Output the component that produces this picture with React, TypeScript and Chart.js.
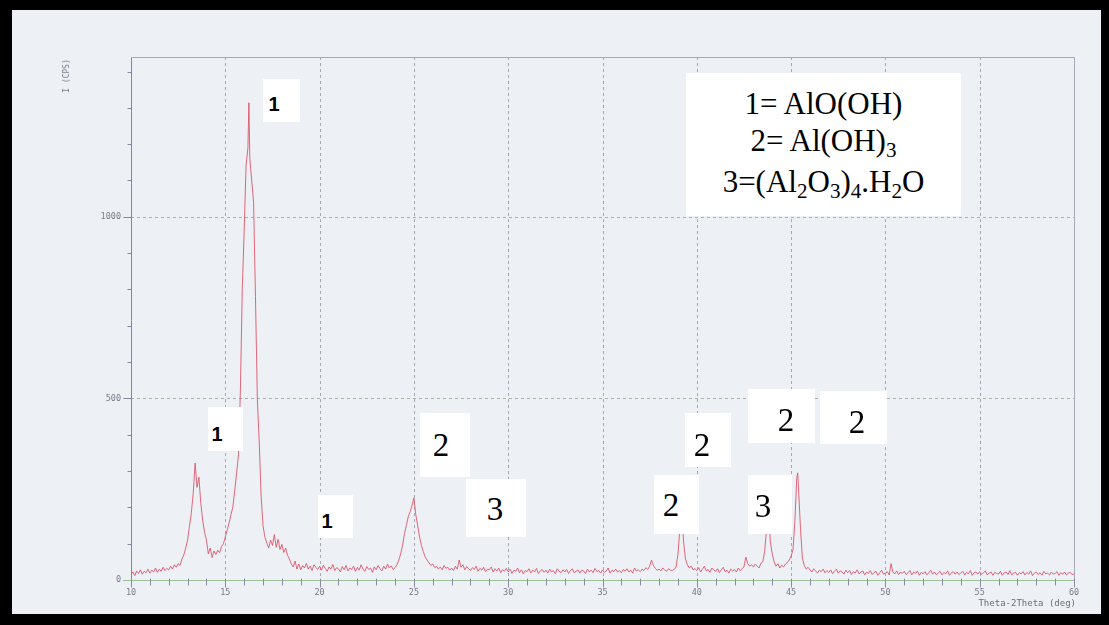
import React, { useEffect, useRef } from 'react';
import { Chart, registerables } from 'chart.js';

Chart.register(...registerables);

// 2-theta angles (deg)
const twoTheta: number[] = [
  10.0, 10.1, 10.2, 10.3, 10.4, 10.5, 10.6, 10.7, 10.8, 10.9,
  11.0, 11.1, 11.2, 11.3, 11.4, 11.5, 11.6, 11.7, 11.8, 11.9,
  12.0, 12.1, 12.2, 12.3, 12.4, 12.5, 12.6, 12.7, 12.8, 12.9,
  13.0, 13.1, 13.2, 13.3, 13.4, 13.5, 13.6, 13.7, 13.8, 13.9,
  14.0, 14.1, 14.2, 14.3, 14.4, 14.5, 14.6, 14.7, 14.8, 14.9,
  15.0, 15.1, 15.2, 15.3, 15.4, 15.5, 15.6, 15.7, 15.8, 15.9,
  16.0, 16.1, 16.2, 16.25, 16.3, 16.4, 16.5, 16.6, 16.7, 16.8, 16.9,
  17.0, 17.1, 17.2, 17.3, 17.4, 17.5, 17.6, 17.7, 17.8, 17.9,
  18.0, 18.1, 18.2, 18.3, 18.4, 18.5, 18.6, 18.7, 18.8, 18.9,
  19.0, 19.1, 19.2, 19.3, 19.4, 19.5, 19.6, 19.7, 19.8, 19.9,
  20.0, 20.1, 20.2, 20.3, 20.4, 20.5, 20.6, 20.7, 20.8, 20.9,
  21.0, 21.1, 21.2, 21.3, 21.4, 21.5, 21.6, 21.7, 21.8, 21.9,
  22.0, 22.1, 22.2, 22.3, 22.4, 22.5, 22.6, 22.7, 22.8, 22.9,
  23.0, 23.1, 23.2, 23.3, 23.4, 23.5, 23.6, 23.7, 23.8, 23.9,
  24.0, 24.1, 24.2, 24.3, 24.4, 24.5, 24.6, 24.7, 24.8, 24.9,
  25.0, 25.1, 25.2, 25.3, 25.4, 25.5, 25.6, 25.7, 25.8, 25.9,
  26.0, 26.1, 26.2, 26.3, 26.4, 26.5, 26.6, 26.7, 26.8, 26.9,
  27.0, 27.1, 27.2, 27.3, 27.4, 27.5, 27.6, 27.7, 27.8, 27.9,
  28.0, 28.1, 28.2, 28.3, 28.4, 28.5, 28.6, 28.7, 28.8, 28.9,
  29.0, 29.1, 29.2, 29.3, 29.4, 29.5, 29.6, 29.7, 29.8, 29.9,
  30.0, 30.1, 30.2, 30.3, 30.4, 30.5, 30.6, 30.7, 30.8, 30.9,
  31.0, 31.1, 31.2, 31.3, 31.4, 31.5, 31.6, 31.7, 31.8, 31.9,
  32.0, 32.1, 32.2, 32.3, 32.4, 32.5, 32.6, 32.7, 32.8, 32.9,
  33.0, 33.1, 33.2, 33.3, 33.4, 33.5, 33.6, 33.7, 33.8, 33.9,
  34.0, 34.1, 34.2, 34.3, 34.4, 34.5, 34.6, 34.7, 34.8, 34.9,
  35.0, 35.1, 35.2, 35.3, 35.4, 35.5, 35.6, 35.7, 35.8, 35.9,
  36.0, 36.1, 36.2, 36.3, 36.4, 36.5, 36.6, 36.7, 36.8, 36.9,
  37.0, 37.1, 37.2, 37.3, 37.4, 37.5, 37.6, 37.7, 37.8, 37.9,
  38.0, 38.1, 38.2, 38.3, 38.4, 38.5, 38.6, 38.7, 38.8, 38.9,
  39.0, 39.1, 39.2, 39.3, 39.4, 39.5, 39.6, 39.7, 39.8, 39.9,
  40.0, 40.1, 40.2, 40.3, 40.4, 40.5, 40.6, 40.7, 40.8, 40.9,
  41.0, 41.1, 41.2, 41.3, 41.4, 41.5, 41.6, 41.7, 41.8, 41.9,
  42.0, 42.1, 42.2, 42.3, 42.4, 42.5, 42.6, 42.7, 42.8, 42.9,
  43.0, 43.1, 43.2, 43.3, 43.4, 43.5, 43.6, 43.7, 43.8, 43.9,
  44.0, 44.1, 44.2, 44.3, 44.4, 44.5, 44.6, 44.7, 44.8, 44.9,
  45.0, 45.1, 45.2, 45.3, 45.35, 45.4, 45.5, 45.6, 45.7, 45.8, 45.9,
  46.0, 46.1, 46.2, 46.3, 46.4, 46.5, 46.6, 46.7, 46.8, 46.9,
  47.0, 47.1, 47.2, 47.3, 47.4, 47.5, 47.6, 47.7, 47.8, 47.9,
  48.0, 48.1, 48.2, 48.3, 48.4, 48.5, 48.6, 48.7, 48.8, 48.9,
  49.0, 49.1, 49.2, 49.3, 49.4, 49.5, 49.6, 49.7, 49.8, 49.9,
  50.0, 50.1, 50.2, 50.3, 50.4, 50.5, 50.6, 50.7, 50.8, 50.9,
  51.0, 51.1, 51.2, 51.3, 51.4, 51.5, 51.6, 51.7, 51.8, 51.9,
  52.0, 52.1, 52.2, 52.3, 52.4, 52.5, 52.6, 52.7, 52.8, 52.9,
  53.0, 53.1, 53.2, 53.3, 53.4, 53.5, 53.6, 53.7, 53.8, 53.9,
  54.0, 54.1, 54.2, 54.3, 54.4, 54.5, 54.6, 54.7, 54.8, 54.9,
  55.0, 55.1, 55.2, 55.3, 55.4, 55.5, 55.6, 55.7, 55.8, 55.9,
  56.0, 56.1, 56.2, 56.3, 56.4, 56.5, 56.6, 56.7, 56.8, 56.9,
  57.0, 57.1, 57.2, 57.3, 57.4, 57.5, 57.6, 57.7, 57.8, 57.9,
  58.0, 58.1, 58.2, 58.3, 58.4, 58.5, 58.6, 58.7, 58.8, 58.9,
  59.0, 59.1, 59.2, 59.3, 59.4, 59.5, 59.6, 59.7, 59.8, 59.9,
  60.0,
];

// Intensity I (CPS)
const counts: number[] = [
  15, 22, 12, 25, 18, 28, 16, 24, 20, 30,
  19, 27, 22, 33, 21, 30, 24, 35, 26, 32,
  28, 38, 30, 42, 35, 45, 40, 58, 69, 88,
  110, 148, 185, 240, 322, 255, 283, 212, 165, 132,
  110, 72, 88, 62, 80, 70, 82, 75, 92, 100,
  118, 138, 157, 180, 201, 245, 295, 345, 520, 800,
  960, 1140, 1190, 1314, 1160, 1100, 1040, 780, 496, 380, 230,
  150, 118, 102, 88, 110, 95, 125, 90, 112, 84,
  98, 76, 88, 68, 58, 44, 36, 52, 30, 44,
  28, 40, 33, 46, 30, 38, 26, 42, 35, 29,
  38, 27, 41, 32, 24, 36, 30, 43, 26, 34,
  31, 22, 37, 28, 40, 25, 33, 29, 38, 24,
  35, 27, 42, 30, 24, 37, 29, 33, 21, 36,
  28, 40, 31, 25, 38, 30, 44, 33, 39, 29,
  34, 42, 55, 72, 95, 128, 150, 174, 188, 205,
  226, 180, 150, 118, 95, 78, 63, 55, 47, 40,
  44, 34, 38, 30, 36, 28, 40, 32, 35, 27,
  33, 26, 38, 30, 55, 35, 42, 28, 37, 31,
  26, 34, 29, 38, 24, 32, 27, 35, 23, 30,
  28, 36, 22, 31, 25, 33, 20, 29, 24, 32,
  22, 30, 18, 27, 24, 33, 20, 28, 17, 26,
  23, 31, 19, 27, 22, 32, 18, 25, 29, 21,
  27, 19, 30, 22, 26, 17, 31, 24, 20, 28,
  22, 29, 18, 26, 31, 20, 24, 28, 19, 27,
  25, 18, 30, 22, 27, 20, 32, 23, 26, 19,
  28, 21, 25, 33, 19, 27, 23, 30, 22, 26,
  20, 29, 24, 31, 22, 27, 19, 33, 25, 28,
  23, 30, 26, 34, 29, 38, 55, 40, 32, 27,
  30, 25, 33, 28, 24, 31, 27, 26, 29, 36,
  70, 140, 185, 105, 58, 42, 33, 38, 28, 31,
  26, 34, 22, 30, 38, 25, 29, 21, 33, 27,
  24, 31, 20, 28, 35, 23, 27, 19, 30, 25,
  29, 22, 33, 26, 31, 36, 63, 45, 38, 42,
  36, 44, 38, 33, 46, 50, 80, 140, 190, 105,
  72, 50, 38, 45, 33, 41, 36, 44, 48, 55,
  66, 83, 160, 280, 295, 245, 140, 60, 40, 30, 35,
  28, 22, 31, 25, 19, 27, 23, 30, 20, 26,
  21, 28, 17, 24, 30, 19, 25, 22, 16, 27,
  20, 26, 15, 23, 19, 28, 17, 22, 25, 14,
  22, 18, 26, 15, 21, 24, 13, 20, 27, 16,
  19, 23, 14, 45, 21, 17, 25, 15, 22, 18,
  24, 15, 20, 26, 14, 22, 18, 25, 13, 21,
  17, 23, 14, 20, 27, 16, 22, 15, 19, 24,
  14, 21, 17, 25, 13, 20, 23, 16, 22, 15,
  19, 24, 14, 21, 17, 26, 13, 20, 22, 16,
  23, 15, 20, 25, 14, 19, 22, 13, 21, 18,
  16, 24, 13, 20, 22, 15, 26, 14, 19, 21,
  13, 20, 17, 23, 14, 21, 16, 25, 12, 19,
  22, 15, 20, 13, 24, 17, 19, 14, 22, 16,
  18, 23, 13, 20, 16, 22, 14, 19, 21, 15,
  17,
];

const xTickLabels: string[] = ['10', '15', '20', '25', '30', '35', '40', '45', '50', '55', '60'];
const yTickLabels: string[] = ['0', '500', '1000'];
const xAxisTitle = 'Theta-2Theta (deg)';
const yAxisTitle = 'I (CPS)';

// Peak assignment labels (text only)
const peakLabels: string[] = ['1', '1', '1', '2', '3', '2', '2', '3', '2', '2'];

// Layout of the peak label boxes: [boxLeft, boxTop, boxW, boxH, textCx, textCy, kind]
const peakLabelLayout: [number, number, number, number, number, number, 'bold' | 'serif'][] = [
  [263, 79, 37, 43, 274, 104, 'bold'],
  [208, 407, 35, 44, 217, 434, 'bold'],
  [318, 495, 35, 43, 327, 521, 'bold'],
  [420, 413, 50, 64, 441, 445, 'serif'],
  [466, 479, 60, 58, 495, 509, 'serif'],
  [654, 475, 45, 59, 671, 505, 'serif'],
  [685, 413, 46, 54, 702, 445, 'serif'],
  [748, 475, 44, 59, 763, 506, 'serif'],
  [748, 389, 67, 54, 786, 420, 'serif'],
  [820, 391, 67, 53, 857, 422, 'serif'],
];

const sub = (t: string) => (
  <span style={{ fontSize: '0.68em', position: 'relative', top: 6 }}>{t}</span>
);

export default function App() {
  const ref = useRef<HTMLCanvasElement | null>(null);

  useEffect(() => {
    const canvas = ref.current;
    if (!canvas) return;

    const axisPlugin = {
      id: 'xrdAxes',
      beforeDatasetsDraw(chart: any) {
        const { ctx, chartArea: a, scales } = chart;
        const xs = scales.x;
        const ys = scales.y;
        ctx.save();
        ctx.lineWidth = 1;
        ctx.strokeStyle = '#a4a8b4';
        ctx.setLineDash([3, 3]);
        xs.ticks.forEach((t: any) => {
          if (t.value <= xs.min || t.value >= xs.max) return;
          const px = Math.round(xs.getPixelForValue(t.value)) + 0.5;
          ctx.beginPath();
          ctx.moveTo(px, a.top);
          ctx.lineTo(px, a.bottom);
          ctx.stroke();
        });
        ctx.strokeStyle = '#a8b0a8';
        ys.ticks.forEach((t: any) => {
          if (t.value <= 0) return;
          const py = Math.round(ys.getPixelForValue(t.value)) + 0.5;
          ctx.beginPath();
          ctx.moveTo(a.left, py);
          ctx.lineTo(a.right, py);
          ctx.stroke();
        });
        ctx.restore();
      },
      afterDatasetsDraw(chart: any) {
        const { ctx, chartArea: a, scales } = chart;
        const xs = scales.x;
        const ys = scales.y;
        ctx.save();
        ctx.lineWidth = 1;
        ctx.setLineDash([]);
        const L = Math.round(a.left) + 0.5;
        const R = Math.round(a.right) + 0.5;
        const T = Math.round(a.top) + 0.5;
        const B = Math.round(a.bottom) + 0.5;
        ctx.strokeStyle = '#aaa8ba';
        ctx.beginPath();
        ctx.moveTo(L, T); ctx.lineTo(R, T); ctx.lineTo(R, B);
        ctx.stroke();
        ctx.strokeStyle = '#8a829e';
        ctx.beginPath();
        ctx.moveTo(L, T); ctx.lineTo(L, B + 3);
        ctx.stroke();
        for (let v = 0; v <= ys.max; v += 100) {
          const py = Math.round(ys.getPixelForValue(v)) + 0.5;
          const len = v % 500 === 0 ? 8 : 4;
          ctx.beginPath();
          ctx.moveTo(L - len, py); ctx.lineTo(L, py);
          ctx.stroke();
        }
        ctx.strokeStyle = '#9cbf98';
        ctx.beginPath();
        ctx.moveTo(L - 8, B); ctx.lineTo(R, B);
        ctx.stroke();
        ctx.strokeStyle = '#8e8ca4';
        for (let v = xs.min; v <= xs.max; v += 1) {
          const px = Math.round(xs.getPixelForValue(v)) + 0.5;
          const len = v % 5 === 0 ? 7 : 5;
          ctx.beginPath();
          ctx.moveTo(px, B - 2); ctx.lineTo(px, B + len);
          ctx.stroke();
        }
        ctx.restore();
      },
    };

    const chart = new Chart(canvas, {
      type: 'line',
      data: {
        datasets: [
          {
            data: twoTheta.map((x, i) => ({ x, y: counts[i] })),
            borderColor: 'rgba(220, 78, 100, 0.85)',
            borderWidth: 1,
            pointRadius: 0,
            tension: 0,
            fill: false,
          },
        ],
      },
      options: {
        animation: false,
        responsive: false,
        devicePixelRatio: 1,
        layout: { padding: { left: 0, top: 57, right: 35, bottom: 0 } },
        plugins: { legend: { display: false }, tooltip: { enabled: false } },
        scales: {
          x: {
            type: 'linear',
            min: 10,
            max: 60,
            afterFit: (s: any) => { s.height = 45; },
            afterBuildTicks: (s: any) => { s.ticks = xTickLabels.map((l) => ({ value: Number(l) })); },
            grid: { display: false, drawTicks: false },
            border: { display: false },
            ticks: {
              autoSkip: false,
              maxRotation: 0,
              padding: 8,
              color: '#7a7a86',
              font: { family: 'DejaVu Sans Mono', size: 8.5 },
              callback: (v: any) => String(v),
            },
          },
          y: {
            type: 'linear',
            min: 0,
            max: 1440,
            afterFit: (s: any) => { s.width = 131; },
            afterBuildTicks: (s: any) => { s.ticks = yTickLabels.map((l) => ({ value: Number(l) })); },
            grid: { display: false, drawTicks: false },
            border: { display: false },
            ticks: {
              autoSkip: false,
              padding: 10,
              color: '#7a7a86',
              font: { family: 'DejaVu Sans Mono', size: 8.5 },
              callback: (v: any) => String(v),
            },
          },
        },
      },
      plugins: [axisPlugin],
    } as any);

    return () => chart.destroy();
  }, []);

  return (
    <div
      style={{
        position: 'fixed',
        left: 0,
        top: 0,
        width: 1109,
        height: 625,
        background: '#000',
        overflow: 'hidden',
      }}
    >
      <div
        style={{
          position: 'absolute',
          left: 12,
          top: 10,
          width: 1109 - 12 - 8,
          height: 625 - 10 - 11,
          background: '#edf0f5',
        }}
      />
      <canvas
        ref={ref}
        width={1109}
        height={625}
        style={{ position: 'absolute', left: 0, top: 0, width: 1109, height: 625 }}
      />
      <div
        style={{
          position: 'absolute',
          left: 67,
          top: 76,
          transform: 'translate(-50%, -50%) rotate(-90deg)',
          fontFamily: 'DejaVu Sans Mono',
          fontSize: 8,
          color: '#7a7a86',
          whiteSpace: 'nowrap',
          lineHeight: '8px',
        }}
      >
        {yAxisTitle}
      </div>
      <div
        style={{
          position: 'absolute',
          right: 1109 - 1076,
          top: 598,
          fontFamily: 'DejaVu Sans Mono',
          fontSize: 9,
          color: '#6c6c78',
          whiteSpace: 'nowrap',
          lineHeight: '10px',
        }}
      >
        {xAxisTitle}
      </div>
      {peakLabels.map((txt, i) => {
        const [bl, bt, bw, bh, cx, cy, kind] = peakLabelLayout[i];
        const bold = kind === 'bold';
        const fs = bold ? 20 : 33;
        return (
          <React.Fragment key={i}>
            <div
              style={{ position: 'absolute', left: bl, top: bt, width: bw, height: bh, background: '#fff' }}
            />
            <div
              style={{
                position: 'absolute',
                left: cx,
                top: cy,
                transform: 'translate(-50%, -50%)',
                fontFamily: bold ? 'Liberation Sans, Arial, sans-serif' : 'Liberation Serif, Times New Roman, serif',
                fontWeight: bold ? 700 : 400,
                fontSize: fs,
                lineHeight: `${fs}px`,
                color: '#000',
                whiteSpace: 'nowrap',
              }}
            >
              {txt}
            </div>
          </React.Fragment>
        );
      })}
      <div
        style={{
          position: 'absolute',
          left: 686,
          top: 73,
          width: 275,
          height: 143,
          background: '#fff',
          boxSizing: 'border-box',
          paddingTop: 12,
          textAlign: 'center',
          fontFamily: 'Liberation Serif, Times New Roman, serif',
          fontSize: 31,
          lineHeight: '37px',
          color: '#000',
          whiteSpace: 'nowrap',
        }}
      >
        <div>1= AlO(OH)</div>
        <div>2= Al(OH){sub('3')}</div>
        <div>
          3=(Al{sub('2')}O{sub('3')}){sub('4')}.H{sub('2')}O
        </div>
      </div>
    </div>
  );
}
